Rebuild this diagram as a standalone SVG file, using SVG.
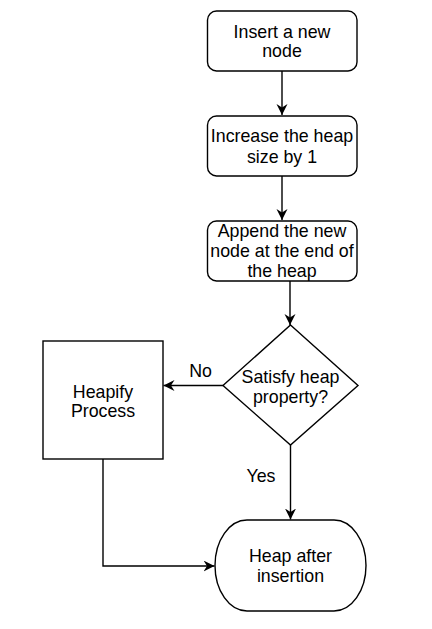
<svg xmlns="http://www.w3.org/2000/svg" width="432" height="629" viewBox="0 0 432 629">
<style>
.shape{fill:#ffffff;stroke:#000000;stroke-width:1.4}
.edge{fill:none;stroke:#000000;stroke-width:1.4}
text{font-family:"Liberation Sans",Arial,sans-serif;font-size:17.8px;fill:#000000;text-anchor:middle}
</style>
<defs>
<marker id="arr" markerUnits="userSpaceOnUse" markerWidth="14" markerHeight="12" refX="11" refY="5.5" orient="auto">
<path d="M0,0 L11,5.5 L0,11 L3.5,5.5 z" fill="#000000"/>
</marker>
</defs>
<rect width="432" height="629" fill="#ffffff"/>
<g id="connectors">
<path class="edge" d="M282,71 L282,115" marker-end="url(#arr)"/>
<path class="edge" d="M282,176 L282,220" marker-end="url(#arr)"/>
<path class="edge" d="M290,281 L290,325" marker-end="url(#arr)"/>
<path class="edge" d="M223,385.5 L163.5,385.5" marker-end="url(#arr)"/>
<path class="edge" d="M290.5,445 L290.5,519.5" marker-end="url(#arr)"/>
<path class="edge" d="M103,459 L103,566 L214.5,566" marker-end="url(#arr)"/>
<text x="200.5" y="376.7">No</text>
<text x="261" y="481.7">Yes</text>
</g>
<g id="insert">
<rect class="shape" x="207.5" y="11" width="149.5" height="60" rx="9"/>
<text x="282" y="37.5">Insert a new</text>
<text x="282" y="57">node</text>
</g>
<g id="increase">
<rect class="shape" x="207.5" y="116" width="149.5" height="60" rx="9"/>
<text x="282" y="142">Increase the heap</text>
<text x="282" y="162.5">size by 1</text>
</g>
<g id="append">
<rect class="shape" x="207.5" y="221" width="149.5" height="60" rx="9"/>
<text x="282" y="237">Append the new</text>
<text x="282" y="257">node at the end of</text>
<text x="282" y="277">the heap</text>
</g>
<g id="decision">
<polygon class="shape" points="290.5,325 358,385.5 290.5,445 223,385.5"/>
<text x="290.5" y="383.3">Satisfy heap</text>
<text x="290.5" y="402.5">property?</text>
</g>
<g id="heapify">
<rect class="shape" x="43" y="341" width="120" height="118"/>
<text x="103" y="398.3">Heapify</text>
<text x="103" y="417.3">Process</text>
</g>
<g id="result">
<rect class="shape" x="215" y="520" width="151" height="91" rx="32" ry="45.5"/>
<text x="290.5" y="562.3">Heap after</text>
<text x="290.5" y="582.3">insertion</text>
</g>
</svg>
